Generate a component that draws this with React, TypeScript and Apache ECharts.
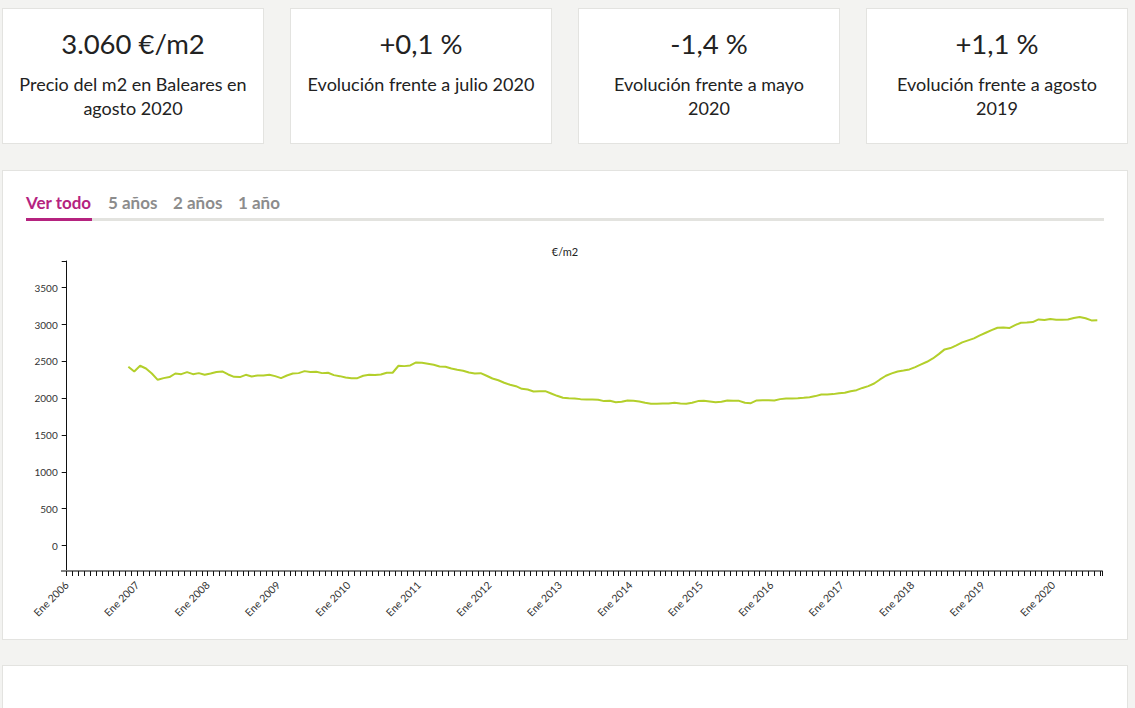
import React, { useEffect, useRef } from "react";
import * as echarts from "echarts";

// ---------- data ----------
const firstMonth = "2006-11"; // first data point (monthly, mid-month)
const baseYear = 2006;

const precios2006 = [2427, 2364];
const precios2007 = [2441, 2404, 2336, 2250, 2273, 2287, 2336, 2327, 2355, 2327, 2341, 2318];
const precios2008 = [2336, 2355, 2364, 2323, 2291, 2287, 2318, 2296, 2309, 2309, 2318, 2300];
const precios2009 = [2273, 2309, 2336, 2341, 2368, 2355, 2359, 2341, 2346, 2314, 2300, 2282];
const precios2010 = [2273, 2273, 2305, 2318, 2314, 2323, 2346, 2346, 2441, 2436, 2445, 2486];
const precios2011 = [2481, 2468, 2454, 2432, 2427, 2404, 2386, 2373, 2350, 2336, 2340, 2305];
const precios2012 = [2268, 2244, 2210, 2183, 2164, 2128, 2119, 2092, 2096, 2096, 2065, 2033];
const precios2013 = [2006, 2001, 1997, 1988, 1983, 1983, 1979, 1961, 1965, 1947, 1952, 1970];
const precios2014 = [1965, 1956, 1938, 1924, 1924, 1929, 1929, 1938, 1929, 1924, 1938, 1961];
const precios2015 = [1965, 1956, 1947, 1952, 1970, 1965, 1965, 1938, 1933, 1970, 1974, 1974];
const precios2016 = [1970, 1988, 1997, 1997, 2001, 2006, 2015, 2029, 2051, 2051, 2056, 2069];
const precios2017 = [2074, 2096, 2110, 2140, 2165, 2200, 2255, 2305, 2337, 2364, 2377, 2391];
const precios2018 = [2423, 2459, 2495, 2540, 2599, 2663, 2681, 2717, 2758, 2785, 2812, 2853];
const precios2019 = [2889, 2925, 2957, 2961, 2952, 2993, 3025, 3027, 3034, 3070, 3061, 3075];
const precios2020 = [3066, 3066, 3070, 3088, 3103, 3085, 3057, 3060];

const precios = [
  ...precios2006, ...precios2007, ...precios2008, ...precios2009, ...precios2010,
  ...precios2011, ...precios2012, ...precios2013, ...precios2014, ...precios2015,
  ...precios2016, ...precios2017, ...precios2018, ...precios2019, ...precios2020,
];

const yTicks = [0, 500, 1000, 1500, 2000, 2500, 3000, 3500];
const yMin = -345;
const yMax = 3863;
const xLabelYears = [2006, 2007, 2008, 2009, 2010, 2011, 2012, 2013, 2014, 2015, 2016, 2017, 2018, 2019, 2020];
const xMaxMonths = 176.3;
const monthLabel = "Ene";
const unitTitle = "€/m2";

const cards = [
  { value: "3.060 €/m2", lines: ["Precio del m2 en Baleares en", "agosto 2020"] },
  { value: "+0,1 %", lines: ["Evolución frente a julio 2020"] },
  { value: "-1,4 %", lines: ["Evolución frente a mayo", "2020"] },
  { value: "+1,1 %", lines: ["Evolución frente a agosto", "2019"] },
];

const tabs = ["Ver todo", "5 años", "2 años", "1 año"];
const tabLefts = [26, 108, 173, 238];

// ---------- component ----------
const FONT = "Lato, 'Noto Sans', sans-serif";

function Chart() {
  const ref = useRef<HTMLDivElement>(null);
  useEffect(() => {
    if (!ref.current) return;
    const chart = echarts.init(ref.current, null, { renderer: "svg" });
    const [fy, fm] = firstMonth.split("-").map(Number);
    const startIdx = (fy - baseYear) * 12 + (fm - 1);
    const data = precios.map((v, i) => [startIdx + i + 0.5, v]);
    const monthTicks: number[] = [];
    for (let m = 0; m <= Math.floor(xMaxMonths); m++) monthTicks.push(m);
    monthTicks.push(xMaxMonths);

    chart.setOption({
      animation: false,
      title: {
        text: unitTitle,
        left: "center",
        top: 9,
        textStyle: { fontSize: 11, fontWeight: "normal", color: "#222", fontFamily: FONT },
      },
      grid: { left: 64.7, right: 26, top: 29, bottom: 61, containLabel: false, outerBoundsMode: "none" } as any,
      graphic: [
        {
          type: "line",
          shape: { x1: 59, y1: 339, x2: 65, y2: 339 },
          style: { stroke: "#808080", lineWidth: 2 },
          silent: true,
        },
      ],
      xAxis: {
        type: "value",
        min: 0,
        max: xMaxMonths,
        splitLine: { show: false },
        axisLine: { show: true, onZero: false, lineStyle: { color: "#808080", width: 2 } },
        axisTick: {
          show: true,
          length: 5,
          lineStyle: { color: "#111", width: 1 },
          customValues: monthTicks,
        },
        axisLabel: {
          show: true,
          rotate: 45,
          margin: 12,
          fontSize: 10.5,
          color: "#333",
          fontFamily: FONT,
          customValues: xLabelYears.map((y) => (y - baseYear) * 12),
          formatter: (v: number) => `${monthLabel} ${baseYear + Math.round(v / 12)}`,
        },
      },
      yAxis: {
        type: "value",
        min: yMin,
        max: yMax,
        splitLine: { show: false },
        axisLine: { show: true, onZero: false, lineStyle: { color: "#111", width: 1 } },
        axisTick: {
          show: true,
          length: 5,
          lineStyle: { color: "#111", width: 1 },
          customValues: [...yTicks, yMax],
        },
        axisLabel: {
          show: true,
          margin: 9,
          fontSize: 10,
          color: "#333",
          fontFamily: FONT,
          customValues: yTicks,
          formatter: (v: number) => String(v),
        },
      },
      series: [
        {
          type: "line",
          data,
          showSymbol: false,
          symbol: "none",
          lineStyle: { color: "#b3cf2b", width: 2 },
          itemStyle: { color: "#b3cf2b" },
        },
      ],
    });
    return () => chart.dispose();
  }, []);
  return (
    <div
      ref={ref}
      style={{ position: "absolute", left: 2, top: 232, width: 1126, height: 400 }}
    />
  );
}

export default function App() {
  return (
    <div
      style={{
        position: "fixed",
        left: 0,
        top: 0,
        width: 1135,
        height: 708,
        overflow: "hidden",
        background: "#f3f3f1",
        fontFamily: FONT,
        color: "#222",
      }}
    >
      {cards.map((c, i) => (
        <div
          key={i}
          style={{
            position: "absolute",
            left: 2 + i * 288,
            top: 8,
            width: 262,
            height: 136,
            boxSizing: "border-box",
            background: "#fff",
            border: "1px solid #e3e3e0",
            textAlign: "center",
          }}
        >
          <div style={{ position: "absolute", left: 0, right: 0, top: 18, fontSize: 27.5, lineHeight: "34px", whiteSpace: "nowrap" }}>
            {c.value}
          </div>
          <div style={{ position: "absolute", left: 0, right: 0, top: 63, fontSize: 18, lineHeight: "24px", whiteSpace: "nowrap" }}>
            {c.lines.map((l, j) => (
              <div key={j}>{l}</div>
            ))}
          </div>
        </div>
      ))}

      <div
        style={{
          position: "absolute",
          left: 2,
          top: 170,
          width: 1126,
          height: 470,
          boxSizing: "border-box",
          background: "#fff",
          border: "1px solid #e3e3e0",
        }}
      />
      {tabs.map((t, i) => (
        <span
          key={t}
          style={{
            position: "absolute",
            left: tabLefts[i],
            top: 193,
            fontSize: 17,
            lineHeight: "20px",
            fontWeight: 700,
            color: i === 0 ? "#b5237f" : "#8c8c8c",
            whiteSpace: "nowrap",
          }}
        >
          {t}
        </span>
      ))}
      <div style={{ position: "absolute", left: 26, top: 218, width: 1078, height: 3, background: "#e3e3df" }} />
      <div style={{ position: "absolute", left: 26, top: 218, width: 66, height: 3, background: "#b5237f" }} />
      <Chart />

      <div
        style={{
          position: "absolute",
          left: 2,
          top: 665,
          width: 1126,
          height: 80,
          boxSizing: "border-box",
          background: "#fff",
          border: "1px solid #e3e3e0",
        }}
      />
    </div>
  );
}
